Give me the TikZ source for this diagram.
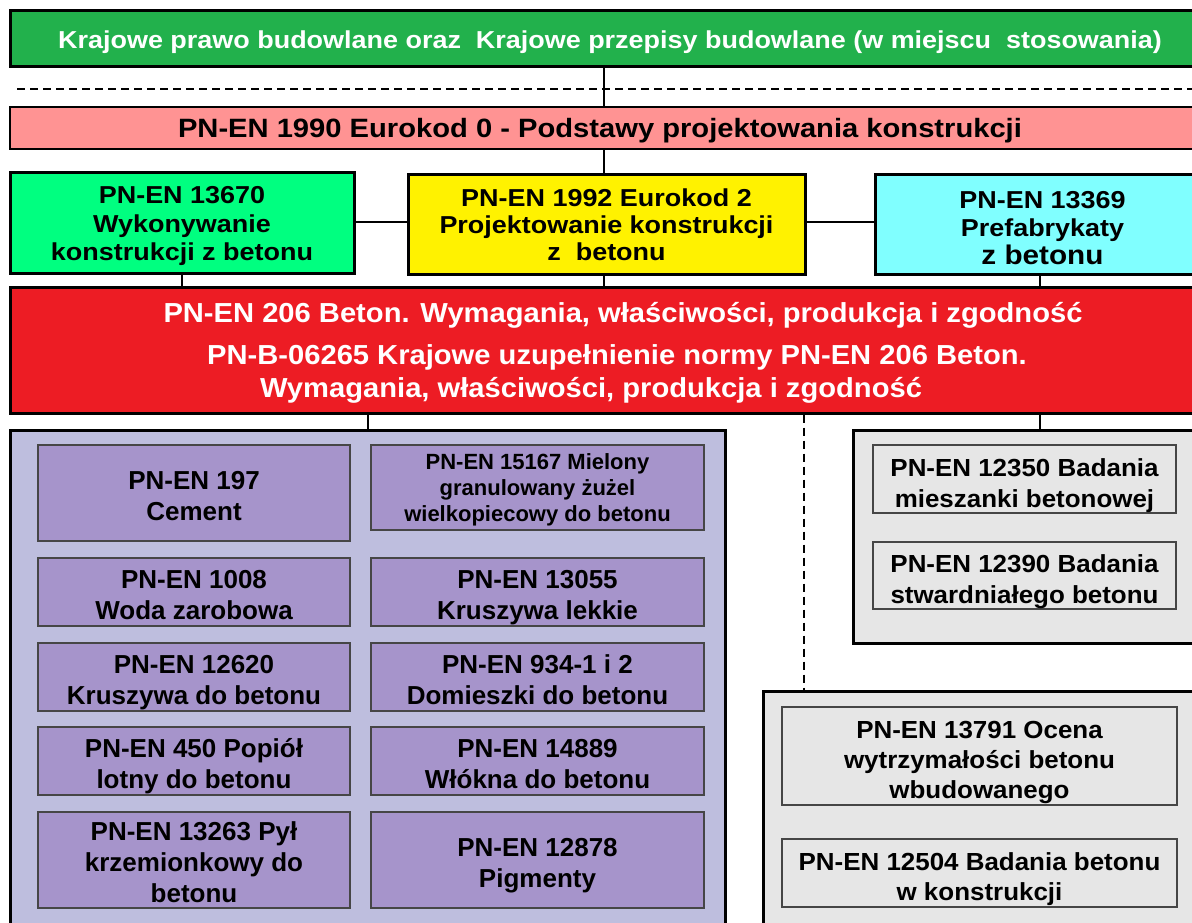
\documentclass[tikz,border=0pt]{standalone}
\usepackage{fontspec}
\setmainfont{Liberation Sans}[FakeStretch=1.08]
\newfontfamily\fontA{Liberation Sans}[FakeStretch=1.1]
\newfontfamily\fontR{Liberation Sans}[FakeStretch=1.06]
\newfontfamily\fontP{Liberation Sans}[FakeStretch=1.0]
\newfontfamily\fontG{Liberation Sans}[FakeStretch=1.05]
\usetikzlibrary{calc}
\definecolor{topgreen}{RGB}{34,177,76}
\definecolor{pinkbox}{RGB}{255,147,147}
\definecolor{mintbox}{RGB}{0,255,128}
\definecolor{yellowbox}{RGB}{255,242,0}
\definecolor{cyanbox}{RGB}{128,255,255}
\definecolor{redbox}{RGB}{237,28,36}
\definecolor{lavbox}{RGB}{190,190,222}
\definecolor{purbox}{RGB}{166,148,203}
\definecolor{graybg}{RGB}{230,230,230}
\definecolor{innerline}{RGB}{70,70,70}
\newcommand{\myfs}[2]{\fontsize{#1}{#2}\selectfont}
\newcommand{\tst}{\rule{0pt}{0.95em}}
\newcommand{\tstp}{\rule{0pt}{28.5pt}}
\newcommand{\tstg}{\rule{0pt}{30.5pt}}
\newcommand{\tstc}{\rule{0pt}{29.5pt}}
\newcommand{\bst}{\rule[-0.2em]{0pt}{0pt}}
\tikzset{
  mainbox/.style={draw=black, line width=3pt, inner sep=0pt, align=center},
  innerbox/.style={draw=innerline, line width=1.5pt, inner sep=0pt, align=center},
  pbox/.style={innerbox, fill=purbox, font=\fontP\bfseries\myfs{26}{31}},
  gbox/.style={innerbox, fill=graybg, font=\fontG\bfseries\myfs{24.7}{31}},
  conn/.style={draw=black, line width=2.5pt},
  dconn/.style={draw=black, line width=2.5pt, dash pattern=on 8pt off 5pt}
}
\begin{document}
\begin{tikzpicture}[x=1pt,y=-1pt]
\useasboundingbox (0,0) rectangle (1192,923);
\clip (0,0) rectangle (1192,923);

% top level
\node[mainbox, fill=topgreen, text=white, minimum width=1200pt, minimum height=56pt,
      font=\fontA\bfseries\myfs{24.5}{30}] (law) at (610,39)
  {\tst Krajowe prawo budowlane oraz\ \ Krajowe przepisy budowlane (w miejscu\ \ stosowania)\bst};
\node[mainbox, line width=2.5pt, fill=pinkbox, minimum width=1200pt, minimum height=42pt,
      font=\fontA\bfseries\myfs{26.5}{30}] (ec0) at (610,128)
  {\tst PN-EN 1990 Eurokod 0 - Podstawy projektowania konstrukcji\bst\hspace*{20pt}};

% second level
\node[mainbox, fill=mintbox, minimum width=344pt, minimum height=100pt,
      font=\fontA\bfseries\myfs{24.5}{28.7}] (exe) at (182,223)
  {\tst PN-EN 13670\\Wykonywanie\\konstrukcji z betonu\bst};
\node[mainbox, fill=yellowbox, minimum width=397pt, minimum height=99pt,
      font=\fontA\bfseries\myfs{24.5}{27}] (ec2) at (606.5,224.5)
  {\tst PN-EN 1992 Eurokod 2\\Projektowanie konstrukcji\\z\ \ betonu\bst};
\node[mainbox, fill=cyanbox, minimum width=335pt, minimum height=99pt,
      font=\fontA\bfseries\myfs{24.5}{28}] (pref) at (1042.5,224.5)
  {\tstc PN-EN 13369\\Prefabrykaty\\{\myfs{27}{29.5}z betonu\bst}};

% red box
\node[mainbox, fill=redbox, text=white, minimum width=1200pt, minimum height=126pt,
      font=\fontR\bfseries\myfs{27.5}{33.4}] (en206) at (610,350)
  {\tst\hspace*{26pt}PN-EN 206 Beton. Wymagania, właściwości, produkcja i zgodność\\[8.2pt]
   \hspace*{14pt}PN-B-06265 Krajowe uzupełnienie normy PN-EN 206 Beton.\\
   Wymagania, właściwości, produkcja i zgodność\bst\hspace*{38pt}};

% containers
\node[mainbox, fill=lavbox, minimum width=715pt, minimum height=510pt] (mat) at (367.5,685) {};
\node[mainbox, fill=graybg, minimum width=357pt, minimum height=213pt] (lab) at (1031.5,536.5) {};
\node[mainbox, fill=graybg, minimum width=447pt, minimum height=249pt] (site) at (986.5,815.5) {};

% material boxes
\node[pbox, minimum width=312pt, minimum height=96pt] (m197) at (194,493) {\tstp PN-EN 197\\Cement\bst};
\node[pbox, minimum width=333pt, minimum height=85pt, font=\fontP\bfseries\myfs{22}{26}] (m15167) at (537.5,487.5)
  {\tst PN-EN 15167 Mielony\\granulowany żużel\\wielkopiecowy do betonu\bst};
\node[pbox, minimum width=312pt, minimum height=68pt] (m1008) at (194,592) {\tstp PN-EN 1008\\Woda zarobowa\bst};
\node[pbox, minimum width=333pt, minimum height=68pt] (m13055) at (537.5,592) {\tstp PN-EN 13055\\Kruszywa lekkie\bst};
\node[pbox, minimum width=312pt, minimum height=68pt] (m12620) at (194,677) {\tstp PN-EN 12620\\Kruszywa do betonu\bst};
\node[pbox, minimum width=333pt, minimum height=68pt] (m934) at (537.5,677) {\tstp PN-EN 934-1 i 2\\Domieszki do betonu\bst};
\node[pbox, minimum width=312pt, minimum height=68pt] (m450) at (194,761) {\tstp PN-EN 450 Popiół\\lotny do betonu\bst};
\node[pbox, minimum width=333pt, minimum height=68pt] (m14889) at (537.5,761) {\tstp PN-EN 14889\\Włókna do betonu\bst};
\node[pbox, minimum width=312pt, minimum height=96pt] (m13263) at (194,860) {\tstp PN-EN 13263 Pył\\krzemionkowy do\\betonu\bst};
\node[pbox, minimum width=333pt, minimum height=96pt] (m12878) at (537.5,860) {\tstp PN-EN 12878\\Pigmenty\bst};

% testing boxes
\node[gbox, minimum width=303pt, minimum height=68pt] (t12350) at (1024.5,479) {\tstg PN-EN 12350 Badania\\mieszanki betonowej\bst};
\node[gbox, minimum width=303pt, minimum height=67pt] (t12390) at (1024.5,575.5) {\tstg PN-EN 12390 Badania\\stwardniałego betonu\bst};
\node[gbox, minimum width=395pt, minimum height=98pt, font=\fontG\bfseries\myfs{24.7}{30}] (t13791) at (979.5,756) {\tstg PN-EN 13791 Ocena\\wytrzymałości betonu\\wbudowanego\bst};
\node[gbox, minimum width=395pt, minimum height=68pt, font=\fontG\bfseries\myfs{24.7}{30}] (t12504) at (979.5,873) {\tstg PN-EN 12504 Badania betonu\\w konstrukcji\bst};

% separator
\coordinate (sepL) at (17,89);
\coordinate (sepR) at (1192,89);
\draw[dconn] (sepL) -- (sepR);

% connectors
\coordinate (xmid) at (604,0);
\coordinate (xmat) at (368,0);
\coordinate (xsite) at (804,0);
\coordinate (xlab) at (1040,0);
\draw[conn] (xmid |- law.south) -- (xmid |- ec0.north);
\draw[conn] (xmid |- ec0.south) -- (xmid |- ec2.north);
\draw[conn] (exe.east |- 0,222) -- (ec2.west |- 0,222);
\draw[conn] (ec2.east |- 0,222) -- (pref.west |- 0,222);
\draw[conn] (exe.south) -- (exe.south |- en206.north);
\draw[conn] (xmid |- ec2.south) -- (xmid |- en206.north);
\draw[conn] (xlab |- pref.south) -- (xlab |- en206.north);
\draw[conn] (xmat |- en206.south) -- (xmat |- mat.north);
\draw[conn] (xlab |- en206.south) -- (xlab |- lab.north);
\draw[dconn] (xsite |- en206.south) -- (xsite |- site.north);
\end{tikzpicture}
\end{document}
